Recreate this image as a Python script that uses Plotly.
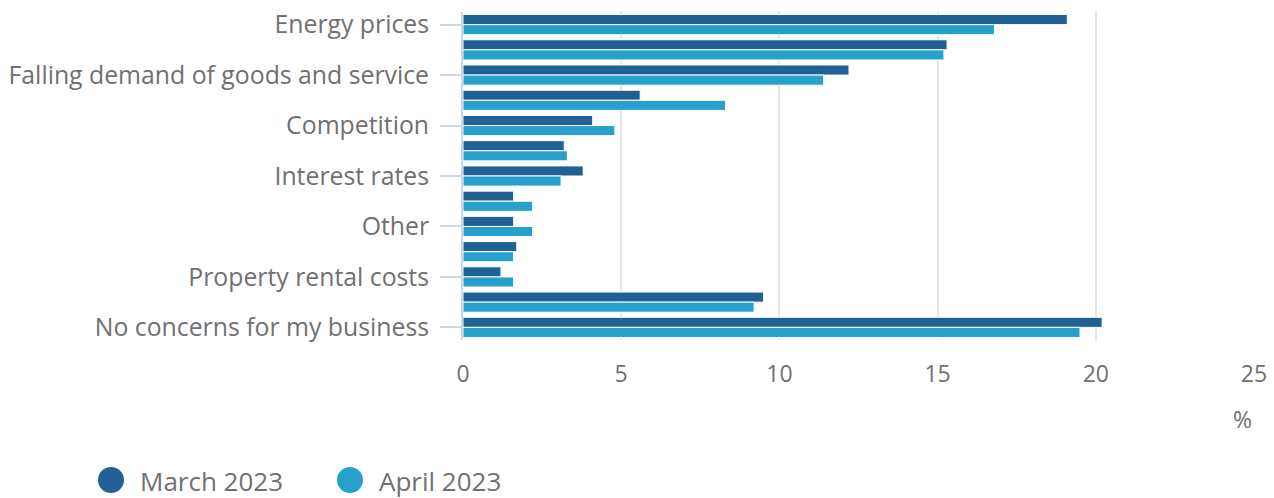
import plotly.graph_objects as go

categories = [
    "Energy prices",
    "Inflation of goods and services prices",
    "Falling demand of goods and services",
    "Taxation",
    "Competition",
    "Labour costs",
    "Interest rates",
    "Supply chain disruption",
    "Other",
    "Industrial action",
    "Property rental costs",
    "Not sure",
    "No concerns for my business",
]
shown_labels = [
    "Energy prices",
    "Falling demand of goods and service",
    "Competition",
    "Interest rates",
    "Other",
    "Property rental costs",
    "No concerns for my business",
]
shown_categories = categories[::2]

march_2023 = [19.1, 15.3, 12.2, 5.6, 4.1, 3.2, 3.8, 1.6, 1.6, 1.7, 1.2, 9.5, 20.2]
april_2023 = [16.8, 15.2, 11.4, 8.3, 4.8, 3.3, 3.1, 2.2, 2.2, 1.6, 1.6, 9.2, 19.5]

series_names = ["March 2023", "April 2023"]
series_colors = ["#206095", "#27a0cc"]
series_values = [march_2023, april_2023]

x_ticks = [0, 5, 10, 15, 20, 25]

FONT = "Open Sans"
TEXT = "#707071"

W, H = 1274, 498
L, R, T, B = 463, 20, 12, 158
pw, ph = W - L - R, H - T - B


def px(x):
    return (x - L) / pw


def py(y):
    return (H - B - y) / ph


fig = go.Figure()
for name, color, vals in zip(series_names, series_colors, series_values):
    fig.add_trace(go.Bar(
        y=categories, x=vals, name=name, orientation="h",
        marker=dict(color=color, line=dict(color="white", width=1)),
        showlegend=False,
    ))

fig.update_layout(
    width=W, height=H,
    margin=dict(l=L, r=R, t=T, b=B, autoexpand=False),
    barmode="group", bargap=0.2, bargroupgap=0,
    plot_bgcolor="white", paper_bgcolor="white",
    font=dict(family=FONT, color=TEXT, size=23),
    xaxis=dict(
        range=[0, 25], tickvals=x_ticks, ticktext=[str(v) for v in x_ticks],
        showgrid=True, gridcolor="#e6e6e6", gridwidth=2,
        zeroline=False, showline=False, ticks="",
        ticklabelstandoff=18, automargin=False,
        tickfont=dict(size=23, color=TEXT, family=FONT),
    ),
    yaxis=dict(
        autorange="reversed", type="category",
        tickvals=shown_categories, ticktext=shown_labels,
        showline=True, linecolor="#ccd6eb", linewidth=2,
        ticks="outside", ticklen=21, tickcolor="#ccd6eb", tickwidth=2,
        ticklabelstandoff=6, automargin=False,
        showgrid=False,
        tickfont=dict(size=24.8, color=TEXT, family=FONT),
    ),
)

# % axis unit
fig.add_annotation(
    text="%", xref="paper", yref="paper", x=1, y=py(419),
    xanchor="right", yanchor="middle", showarrow=False,
    font=dict(size=23, color=TEXT, family=FONT),
)

# legend with large circle symbols
legend_x = [111, 350]
legend_y = 480
r = 13
for name, color, cx in zip(series_names, series_colors, legend_x):
    fig.add_shape(
        type="circle", xref="paper", yref="paper",
        x0=px(cx - r), x1=px(cx + r), y0=py(legend_y + r), y1=py(legend_y - r),
        fillcolor=color, line=dict(width=0),
    )
    fig.add_annotation(
        text=name, xref="paper", yref="paper", x=px(cx + 28), y=py(legend_y + 1),
        xanchor="left", yanchor="middle", showarrow=False, borderpad=0,
        font=dict(size=26, color=TEXT, family=FONT),
    )

fig.write_html(
    "out.html",
    config={"displayModeBar": False},
    post_script="document.body.style.margin='0';document.body.style.overflow='hidden';",
)
